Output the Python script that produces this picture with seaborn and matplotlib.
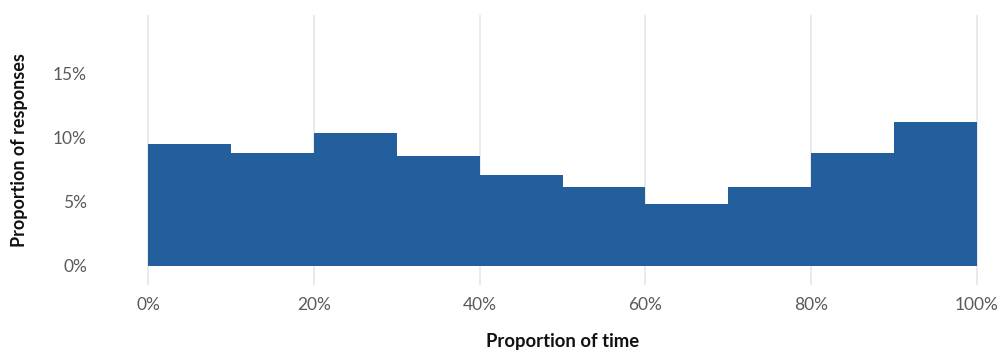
import numpy as np
import pandas as pd
import matplotlib
matplotlib.use("Agg")
import matplotlib.pyplot as plt
from matplotlib.ticker import PercentFormatter
import seaborn as sns

# histogram bins (proportion of time) and share of responses per bin
bin_edges = [0.0, 0.1, 0.2, 0.3, 0.4, 0.5, 0.6, 0.7, 0.8, 0.9, 1.0]
bin_mids = [0.05, 0.15, 0.25, 0.35, 0.45, 0.55, 0.65, 0.75, 0.85, 0.95]
shares = [0.0951, 0.0883, 0.1037, 0.0857, 0.0709, 0.0615, 0.0482, 0.0615, 0.0883, 0.1123]

x_ticks = [0.0, 0.2, 0.4, 0.6, 0.8, 1.0]
y_ticks = [0.0, 0.05, 0.10, 0.15]

sns.set_theme(style="white")
plt.rcParams["font.family"] = ["Lato", "DejaVu Sans"]

df = pd.DataFrame({"time": bin_mids, "share": shares})

fig = plt.figure(figsize=(10, 3.5), dpi=100)
ax = fig.add_axes([0.1397, 0.186, 0.8456, 0.771])

sns.histplot(data=df, x="time", weights="share", bins=bin_edges,
             stat="count", color="#235f9c", alpha=1, edgecolor="none",
             linewidth=0, ax=ax)

ax.set_xlim(-0.01, 1.01)
ax.set_ylim(-0.015, 0.196)
ax.set_xticks(x_ticks)
ax.set_yticks(y_ticks)
ax.xaxis.set_major_formatter(PercentFormatter(1.0, decimals=0))
ax.yaxis.set_major_formatter(PercentFormatter(1.0, decimals=0))

ax.grid(axis="x", color="#e6e6e6", linewidth=1.2)
ax.grid(axis="y", visible=False)
ax.set_axisbelow(True)
for s in ax.spines.values():
    s.set_visible(False)

ax.tick_params(axis="both", length=0, labelsize=12.5, labelcolor="#5a5a5a")
ax.tick_params(axis="y", pad=38)
ax.tick_params(axis="x", pad=9)

ax.set_xlabel("Proportion of time", fontsize=13.3, fontweight="bold",
              color="#111111", labelpad=14)
ax.set_ylabel("Proportion of responses", fontsize=13, fontweight="bold",
              color="#111111", labelpad=18)

fig.savefig("out.png", dpi=100)
